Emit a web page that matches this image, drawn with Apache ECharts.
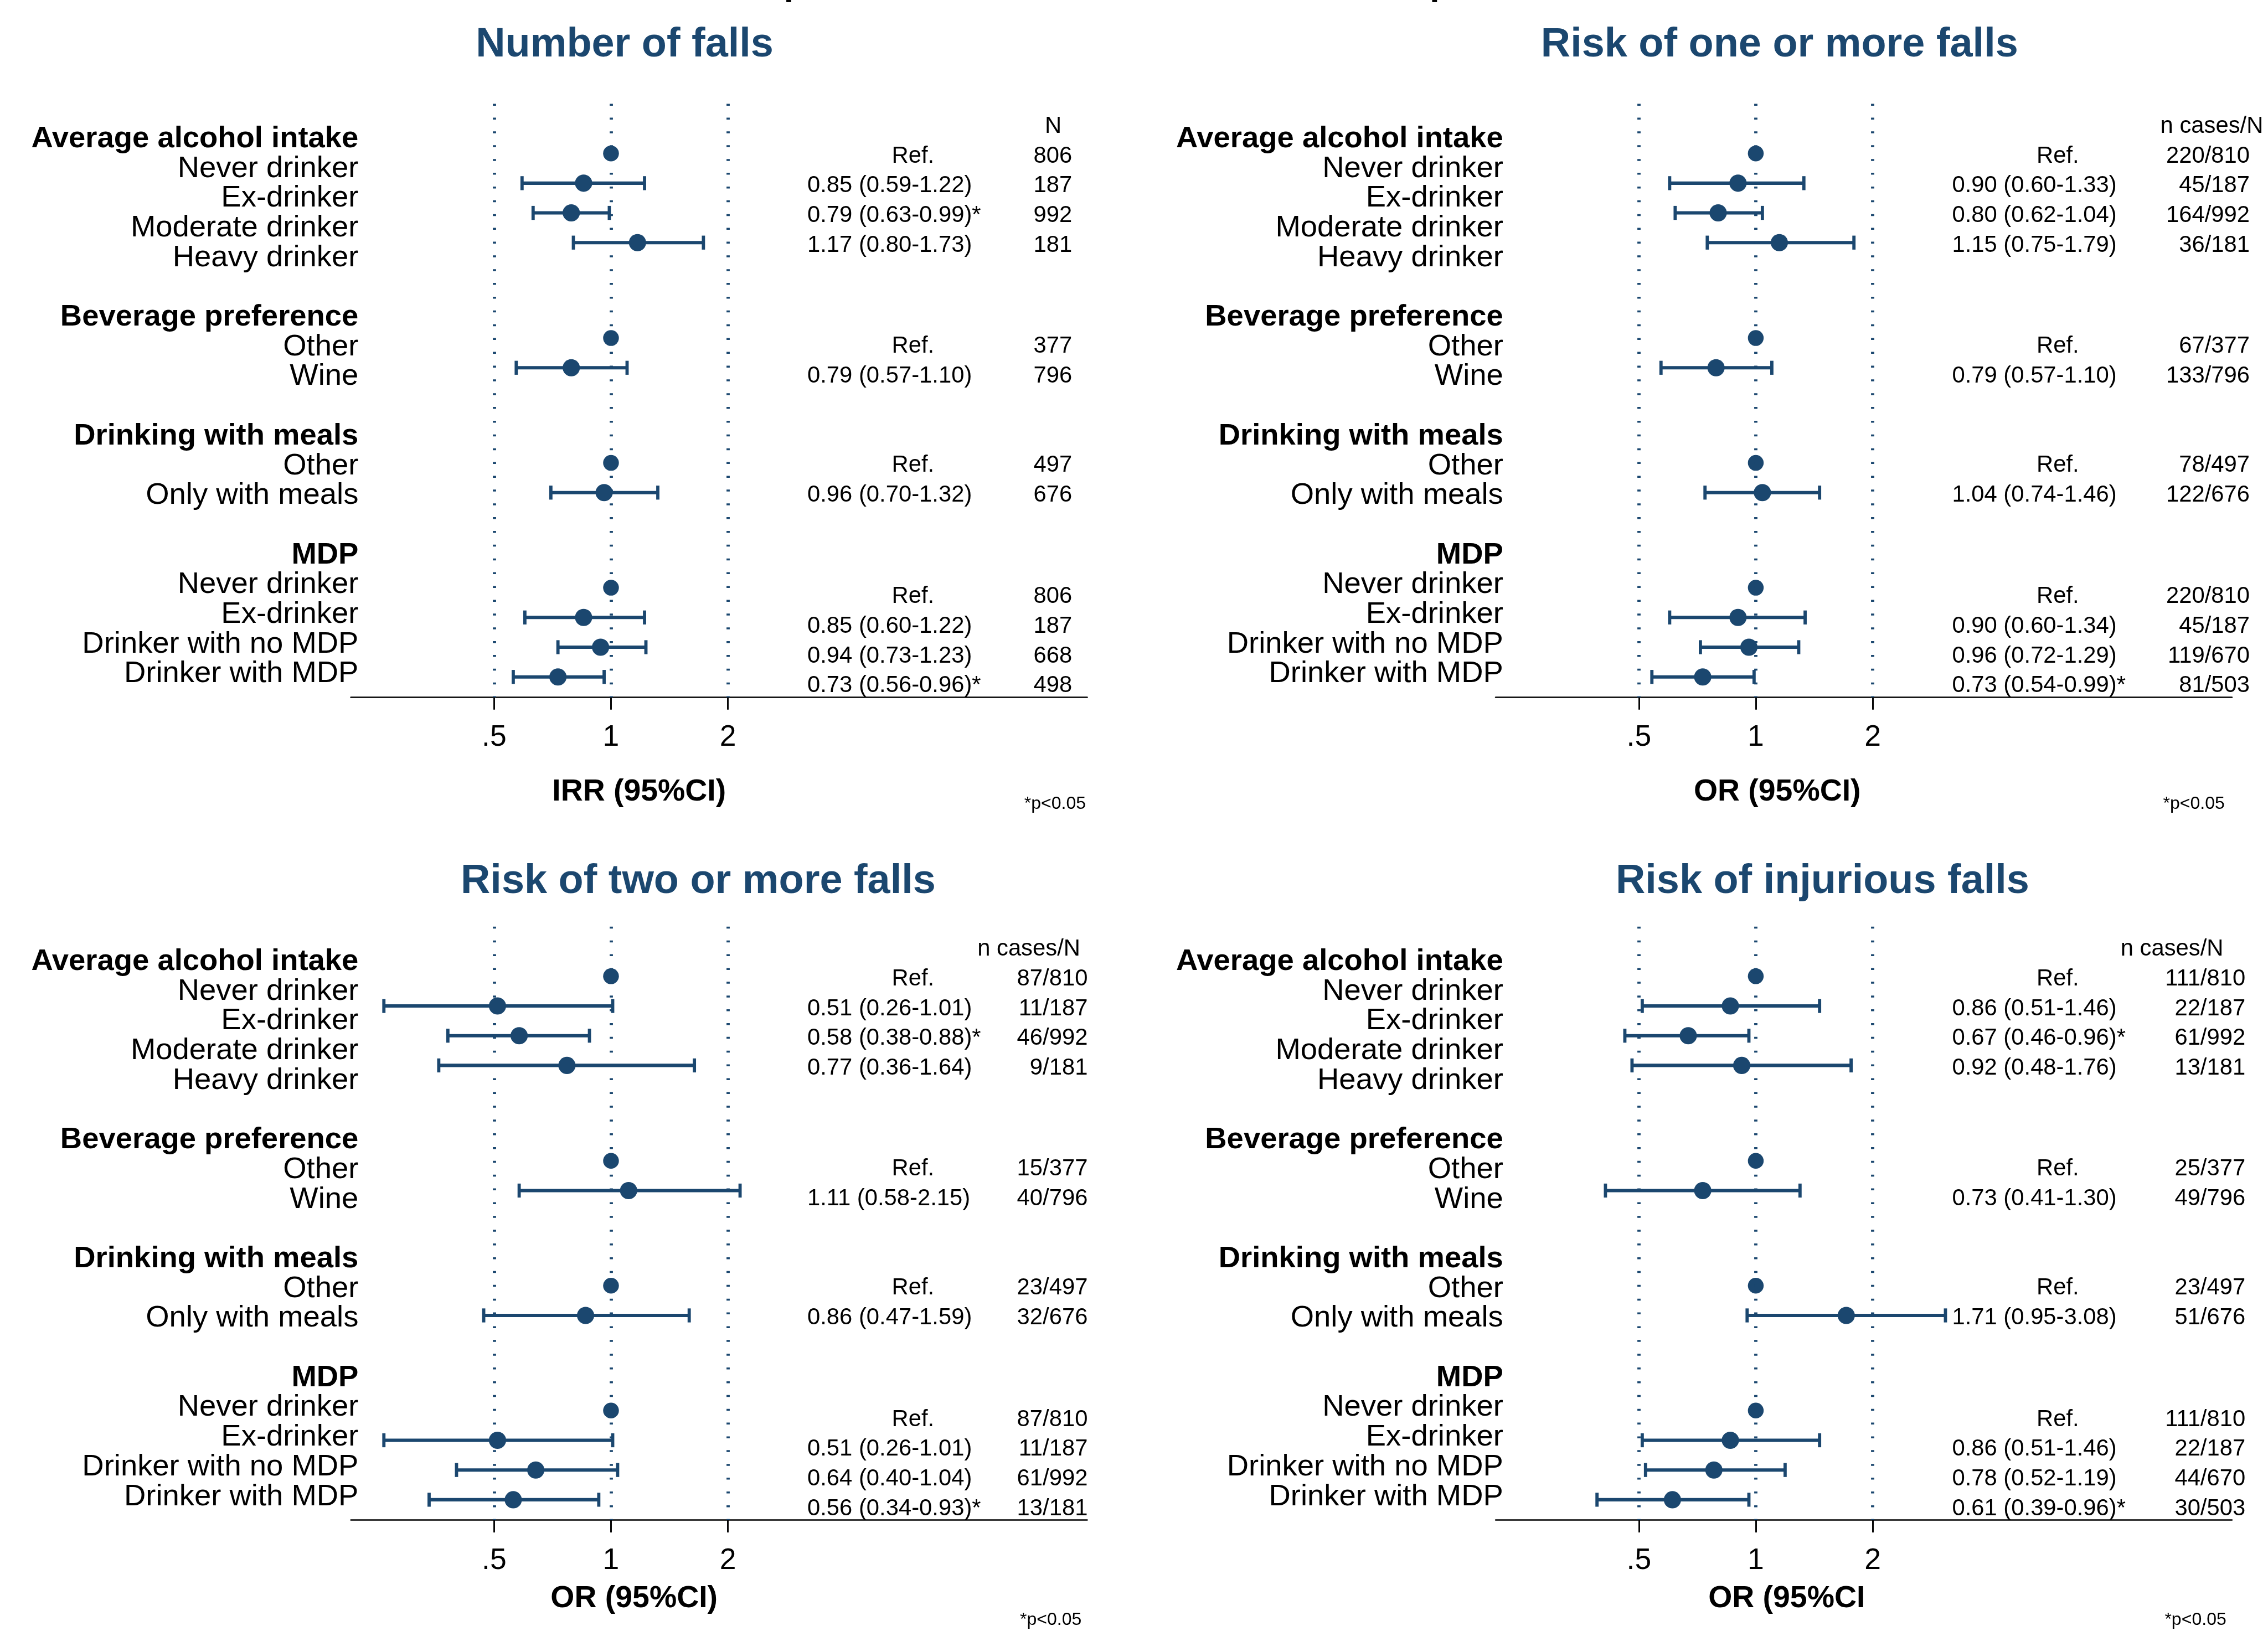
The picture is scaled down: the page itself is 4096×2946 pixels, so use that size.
<!DOCTYPE html>
<html>
<head>
<meta charset="utf-8">
<script src="https://cdn.jsdelivr.net/npm/echarts@6.0.0/dist/echarts.min.js"></script>
<style>
  html, body { margin: 0; padding: 0; background: #fff; }
  #chart { width: 4096px; height: 2946px; }
</style>
</head>
<body>
<div id="chart"></div>
<script>
var S = 0.972;                 // reference px -> page px
var NAVY = '#1b476f';
var FONT = '"Liberation Sans", Arial, Helvetica, sans-serif';
var DROP = 0.08;               // text sits a bit low in the original

// ---- rows ----
var groupNames = ['Average alcohol intake', 'Beverage preference', 'Drinking with meals', 'MDP'];
var itemNames = [
    ['Never drinker', 'Ex-drinker', 'Moderate drinker', 'Heavy drinker'],
    ['Other', 'Wine'],
    ['Other', 'Only with meals'],
    ['Never drinker', 'Ex-drinker', 'Drinker with no MDP', 'Drinker with MDP']
];

// ---- panel data (null = reference category) ----
var fallsEst = [1, 0.85, 0.79, 1.17, 1, 0.79, 1, 0.96, 1, 0.85, 0.94, 0.73];
var fallsLo  = [null, 0.59, 0.63, 0.80, null, 0.57, null, 0.70, null, 0.60, 0.73, 0.56];
var fallsHi  = [null, 1.22, 0.99, 1.73, null, 1.10, null, 1.32, null, 1.22, 1.23, 0.96];
var fallsN   = ['806', '187', '992', '181', '377', '796', '497', '676', '806', '187', '668', '498'];

var oneEst = [1, 0.90, 0.80, 1.15, 1, 0.79, 1, 1.04, 1, 0.90, 0.96, 0.73];
var oneLo  = [null, 0.60, 0.62, 0.75, null, 0.57, null, 0.74, null, 0.60, 0.72, 0.54];
var oneHi  = [null, 1.33, 1.04, 1.79, null, 1.10, null, 1.46, null, 1.34, 1.29, 0.99];
var oneN   = ['220/810', '45/187', '164/992', '36/181', '67/377', '133/796', '78/497', '122/676', '220/810', '45/187', '119/670', '81/503'];

var twoEst = [1, 0.51, 0.58, 0.77, 1, 1.11, 1, 0.86, 1, 0.51, 0.64, 0.56];
var twoLo  = [null, 0.26, 0.38, 0.36, null, 0.58, null, 0.47, null, 0.26, 0.40, 0.34];
var twoHi  = [null, 1.01, 0.88, 1.64, null, 2.15, null, 1.59, null, 1.01, 1.04, 0.93];
var twoN   = ['87/810', '11/187', '46/992', '9/181', '15/377', '40/796', '23/497', '32/676', '87/810', '11/187', '61/992', '13/181'];

var injEst = [1, 0.86, 0.67, 0.92, 1, 0.73, 1, 1.71, 1, 0.86, 0.78, 0.61];
var injLo  = [null, 0.51, 0.46, 0.48, null, 0.41, null, 0.95, null, 0.51, 0.52, 0.39];
var injHi  = [null, 1.46, 0.96, 1.76, null, 1.30, null, 3.08, null, 1.46, 1.19, 0.96];
var injN   = ['111/810', '22/187', '61/992', '13/181', '25/377', '49/796', '23/497', '51/676', '111/810', '22/187', '44/670', '30/503'];

var panelTitles = ['Number of falls', 'Risk of one or more falls', 'Risk of two or more falls', 'Risk of injurious falls'];
var axisNames = ['IRR (95%CI)', 'OR (95%CI)', 'OR (95%CI)', 'OR (95%CI'];
var countHeads = ['N', 'n cases/N', 'n cases/N', 'n cases/N'];
var xTicks = [0.5, 1, 2];
var refLines = [0.5, 1, 2];

var panels = [
    { est: fallsEst, lo: fallsLo, hi: fallsHi, n: fallsN },
    { est: oneEst, lo: oneLo, hi: oneHi, n: oneN },
    { est: twoEst, lo: twoLo, hi: twoHi, n: twoN },
    { est: injEst, lo: injLo, hi: injHi, n: injN }
];

// ---- layout, in reference pixels ----
var panelOrigin = [[0, 0], [2127, 0], [0, 1529], [2127, 1529]];
var titlePos = [[884, 78], [2863, 78], [856, 1632], [3002, 1632]];
var axisNamePos = [[1026, 1467], [3147, 1467], [1023, 2966], [3174, 2966]];
var notePos = [[1903, 1491], [4019, 1491], [1895, 3008], [4022, 3008]];
var headPos = [[1957, 'center'], [1887, 'left'], [1816, 'left'], [1813, 'left']];
var countRight = [1992, 2053, 2021, 2045];
var GRID_L = 652, GRID_T = 193, GRID_W = 1368, GRID_H = 1102.7;
var LABEL_R = 666;
var VAL_X = 1500, REF_X = 1657;
var markerShift = [-0.43, -0.22, -0.02, 0.18];
var textShift = [-0.4, 0, 0, 0.42];

// label rows: header, items, one blank row between groups
var labelData = [];   // [row, text, isHeader]
var flat = [];
var start = 1;
groupNames.forEach(function (name, g) {
    labelData.push([start, name, 1]);
    itemNames[g].forEach(function (it, i) {
        labelData.push([start + 1 + i, it, 0]);
        flat.push({ g: g, row: start + 1 + i });
    });
    start += itemNames[g].length + 2;
});

function fmt(v) { return v.toFixed(2); }

function txt(s, x, y, align, size, weight, color) {
    return {
        type: 'text', x: x, y: y + DROP * size,
        style: {
            text: s, fill: color || '#000', fontSize: size, fontWeight: weight || 'normal',
            fontFamily: FONT, textAlign: align, textVerticalAlign: 'middle',
            align: align, verticalAlign: 'middle'
        }
    };
}

var grid = [], xAxis = [], yAxis = [], series = [], graphic = [];

panels.forEach(function (p, k) {
    var ox = panelOrigin[k][0], oy = panelOrigin[k][1];
    grid.push({ left: (ox + GRID_L) * S, top: (oy + GRID_T) * S, width: GRID_W * S, height: GRID_H * S });
    xAxis.push({
        type: 'value', gridIndex: k, position: 'bottom', min: -2.2255, max: 4.0743,
        splitLine: { show: false },
        axisLine: { show: true, onZero: false, lineStyle: { color: '#000', width: 2.8 * S } },
        axisTick: { show: true, customValues: xTicks.map(Math.log2), length: 23 * S, lineStyle: { color: '#000', width: 3 * S } },
        axisLabel: {
            show: true, customValues: xTicks.map(Math.log2), margin: 48 * S,
            color: '#000', fontSize: 55 * S, fontFamily: FONT,
            formatter: function (v) { return String(Math.pow(2, v)).replace(/^0\./, '.'); }
        }
    });
    yAxis.push({
        type: 'value', gridIndex: k, inverse: true, min: -0.0978, max: 19.864,
        splitLine: { show: false }, axisLine: { show: false }, axisTick: { show: false },
        axisLabel: { show: false }
    });

    var ciData = [], ptData = [], txtData = [];
    flat.forEach(function (f, j) {
        var mr = f.row + markerShift[f.g];
        ptData.push([Math.log2(p.est[j]), mr]);
        if (p.lo[j] != null) ciData.push([Math.log2(p.lo[j]), Math.log2(p.hi[j]), mr]);
        txtData.push([j, f.row + textShift[f.g]]);
    });
    txtData.push([-1, 1 + textShift[0]]); // column header

    // row labels on the left
    series.push({
        type: 'custom', xAxisIndex: k, yAxisIndex: k, z: 5, silent: true,
        data: labelData.map(function (d) { return [0, d[0]]; }),
        encode: { x: 0, y: 1 },
        renderItem: function (params, api) {
            var d = labelData[params.dataIndex];
            var y = api.coord([0, api.value(1)])[1];
            var x = params.coordSys.x + (LABEL_R - GRID_L) * S;
            return txt(d[1], x, y, 'right', 56 * S, d[2] ? 'bold' : 'normal');
        }
    });
    // confidence intervals
    series.push({
        type: 'custom', xAxisIndex: k, yAxisIndex: k, z: 3, silent: true,
        data: ciData, encode: { x: [0, 1], y: 2 },
        renderItem: function (params, api) {
            var a = api.coord([api.value(0), api.value(2)]);
            var b = api.coord([api.value(1), api.value(2)]);
            var h = 26 * S / 2;
            var bar = { stroke: NAVY, lineWidth: 6.3 * S };
            var cap = { stroke: NAVY, lineWidth: 6 * S };
            return {
                type: 'group', children: [
                    { type: 'line', shape: { x1: a[0], y1: a[1], x2: b[0], y2: b[1] }, style: bar },
                    { type: 'line', shape: { x1: a[0], y1: a[1] - h, x2: a[0], y2: a[1] + h }, style: cap },
                    { type: 'line', shape: { x1: b[0], y1: b[1] - h, x2: b[0], y2: b[1] + h }, style: cap }
                ]
            };
        }
    });
    // point estimates + reference lines
    series.push({
        type: 'scatter', xAxisIndex: k, yAxisIndex: k, z: 4, silent: true,
        symbol: 'circle',
        symbolSize: function (val, params) { return (p.lo[params.dataIndex] == null ? 29.3 : 32) * S; },
        itemStyle: { color: NAVY, opacity: 1 },
        data: ptData,
        markLine: {
            silent: true, symbol: ['none', 'none'], label: { show: false },
            lineStyle: { color: NAVY, width: 6 * S, type: [3.6 * S, 22 * S], opacity: 1 },
            emphasis: { disabled: true },
            data: refLines.map(function (v) { return { xAxis: Math.log2(v) }; })
        }
    });
    // estimate text and counts
    series.push({
        type: 'custom', xAxisIndex: k, yAxisIndex: k, z: 5, silent: true,
        data: txtData, encode: { x: 0, y: 1 },
        renderItem: function (params, api) {
            var j = api.value(0);
            var y = api.coord([0, api.value(1)])[1];
            var x0 = params.coordSys.x;
            var size = 43 * S;
            if (j < 0) {
                return txt(countHeads[k], x0 + (headPos[k][0] - GRID_L) * S, y, headPos[k][1], size);
            }
            var est = p.est[j], lo = p.lo[j], hi = p.hi[j];
            var kids = [];
            if (lo == null) {
                kids.push(txt('Ref.', x0 + (REF_X - GRID_L) * S, y, 'left', size));
            } else {
                var star = (hi < 1 || lo > 1) ? '*' : '';
                kids.push(txt(fmt(est) + ' (' + fmt(lo) + '-' + fmt(hi) + ')' + star, x0 + (VAL_X - GRID_L) * S, y, 'left', size));
            }
            kids.push(txt(p.n[j], x0 + (countRight[k] - GRID_L) * S, y, 'right', size));
            return { type: 'group', children: kids };
        }
    });

    graphic.push(txt(panelTitles[k], titlePos[k][0] * S, titlePos[k][1] * S, 'left', 76 * S, 'bold', NAVY));
    graphic.push(txt(axisNames[k], axisNamePos[k][0] * S, axisNamePos[k][1] * S, 'left', 57 * S, 'bold'));
    graphic.push(txt('*p<0.05', notePos[k][0] * S, notePos[k][1] * S, 'left', 33 * S));
});

// clipped marks of a heading above the top edge
graphic.push({ type: 'rect', shape: { x: 1461 * S, y: 0, width: 9 * S, height: 4 * S }, style: { fill: '#000' } });
graphic.push({ type: 'rect', shape: { x: 2661 * S, y: 0, width: 9 * S, height: 4 * S }, style: { fill: '#000' } });

var chart = echarts.init(document.getElementById('chart'));
chart.setOption({
    backgroundColor: '#fff',
    animation: false,
    grid: grid,
    xAxis: xAxis,
    yAxis: yAxis,
    series: series,
    graphic: { elements: graphic }
});
</script>
</body>
</html>
